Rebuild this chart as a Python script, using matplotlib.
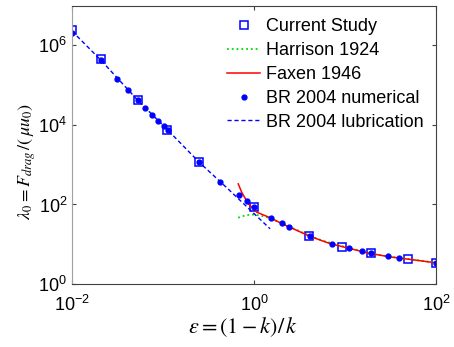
import numpy as np
import matplotlib
matplotlib.use('Agg')
import matplotlib.pyplot as plt
from matplotlib.ticker import FixedLocator, FuncFormatter, NullLocator

plt.rcParams['font.family'] = ['Liberation Sans', 'DejaVu Sans']
plt.rcParams['mathtext.fontset'] = 'stix'

# current study (squares)
eps_cs = [0.0101, 0.0206, 0.053, 0.111, 0.25, 1.0, 4.05, 9.2, 19.3, 49.6, 100]
lam_cs = [2.47e6, 4.47e5, 4.3e4, 7.5e3, 1.17e3, 86, 16.5, 8.5, 5.9, 4.3, 3.35]

# BR 2004 numerical (dots)
eps_br = [0.0101, 0.0207, 0.031, 0.0416, 0.0527, 0.0639, 0.0762, 0.0887, 0.102, 0.113,
          0.25, 0.427, 0.676, 0.834, 1.01, 1.52, 2.01, 2.4, 4.1, 7.15, 11.1, 15.3,
          19.2, 29.9, 39.5, 100]
lam_br = [2.11e6, 4.2e5, 1.47e5, 7.37e4, 4.15e4, 2.6e4, 1.78e4, 1.28e4, 9.4e3, 7.4e3,
          1.19e3, 376, 178, 119, 85, 47, 34, 27.5, 16.5, 10.4, 7.9, 6.8,
          5.85, 5.0, 4.5, 3.35]

# Faxen 1946
eps_fx = [0.671, 0.732, 0.866, 1.07, 1.5, 2.1, 2.94, 4.12, 5.78, 6.84, 11.3, 18.8, 31.3, 51.8, 100]
lam_fx = [329, 203, 104, 64, 46.5, 31.6, 22.4, 15.8, 11.9, 10.4, 7.8, 5.85, 4.8, 4.15, 3.4]

# Harrison 1924
eps_hr = [0.67, 0.80, 0.944, 1.16, 1.44, 2.1, 2.94, 4.12, 5.78, 11.3, 18.8, 31.3, 51.8, 100]
lam_hr = [46.5, 53, 56, 53, 46.5, 32.5, 23, 16.2, 12.1, 7.9, 5.9, 4.85, 4.2, 3.42]

# BR 2004 lubrication
eps_lub = [0.01, 0.0207, 0.0527, 0.113, 0.25, 0.5, 1.5]
lam_lub = [2.3e6, 4.3e5, 4.2e4, 7.4e3, 1.15e3, 266, 24.5]

fig = plt.figure(figsize=(4.54, 3.47), dpi=100)
ax = fig.add_axes([0.1586, 0.1816, 0.8018, 0.802])

ax.plot(eps_cs, lam_cs, 's', mfc='none', mec='#0000ff', ms=5.5, mew=1.1, label='Current Study')
ax.plot(eps_hr, lam_hr, ':', color='#00dd00', lw=1.3, label='Harrison 1924')
ax.plot(eps_fx, lam_fx, '-', color='#ff0000', lw=1.1, label='Faxen 1946')
ax.plot(eps_br, lam_br, 'o', color='#0000ff', ms=3.5, label='BR 2004 numerical')
ax.plot(eps_lub, lam_lub, '--', color='#0000ff', lw=1.0, dashes=(3, 2), label='BR 2004 lubrication')

ax.set_xscale('log')
ax.set_yscale('log')
ax.set_xlim(1e-2, 1e2)
ax.set_ylim(1, 1e7)

fmt = FuncFormatter(lambda v, p: r'$\mathregular{10^{%d}}$' % int(round(np.log10(v))))
ax.xaxis.set_major_locator(FixedLocator([1e-2, 1, 1e2]))
ax.yaxis.set_major_locator(FixedLocator([1, 1e2, 1e4, 1e6]))
ax.xaxis.set_minor_locator(NullLocator())
ax.yaxis.set_minor_locator(NullLocator())
ax.xaxis.set_major_formatter(fmt)
ax.yaxis.set_major_formatter(fmt)
ax.tick_params(direction='in', length=3, top=True, right=True, labelsize=13, color='#404040')
ax.tick_params(axis='x', pad=8)

for s in ['top', 'right', 'bottom']:
    ax.spines[s].set_color('#404040')
ax.spines['left'].set_color('#a0a0a0')

ax.set_xlabel(r'$\varepsilon = \left(1 - k\right)/\,k$', fontsize=16, va='center')
ax.xaxis.set_label_coords(0.47, -0.155)
ax.set_ylabel(r'$\lambda_0 = F_{drag}\,/\left(\,\mu u_0\right)$', fontsize=13, va='center')
ax.yaxis.set_label_coords(-0.124, 0.44)

ax.legend(loc='upper right', frameon=False, fontsize=13, handlelength=1.85,
          handletextpad=0.3, labelspacing=0.38, borderaxespad=0.3)

fig.savefig('out.png', dpi=100)
